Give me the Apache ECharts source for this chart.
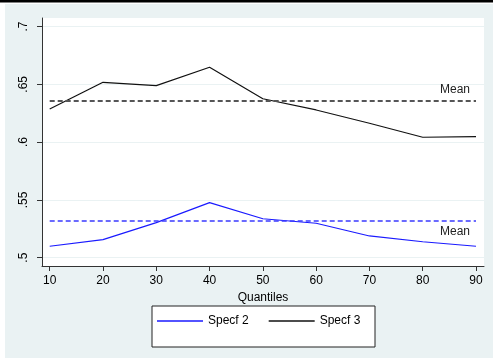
<!DOCTYPE html>
<html>
<head>
<meta charset="utf-8">
<script src="https://cdn.jsdelivr.net/npm/echarts@6/dist/echarts.min.js"></script>
<style>
html,body{margin:0;padding:0;background:#fff;}
#c{width:493px;height:359px;}
</style>
</head>
<body>
<div id="c"></div>
<script>
const quantiles = [10, 20, 30, 40, 50, 60, 70, 80, 90];
const specf2 = [0.5099, 0.5156, 0.5303, 0.5476, 0.5337, 0.5298, 0.5188, 0.5138, 0.5099];
const specf3 = [0.6286, 0.6517, 0.6488, 0.6647, 0.6375, 0.6278, 0.6163, 0.6042, 0.6047];
const meanSpecf2 = 0.5317;
const meanSpecf3 = 0.6358;
const yTicks = [0.5, 0.55, 0.6, 0.65, 0.7];
const yTickLabels = ['.5', '.55', '.6', '.65', '.7'];
const xTicks = [10, 20, 30, 40, 50, 60, 70, 80, 90];
const seriesNames = ['Specf 2', 'Specf 3'];
const meanLabel = 'Mean';
const xTitle = 'Quantiles';

const chart = echarts.init(document.getElementById('c'), null, {renderer: 'canvas'});
const font = 'Liberation Sans, Arial, sans-serif';

function pairs(xs, ys) { return xs.map((x, i) => [x, ys[i]]); }

chart.setOption({
  animation: false,
  backgroundColor: '#ffffff',
  graphic: [
    {type: 'rect', z: -10, silent: true, shape: {x: 5, y: 4, width: 488, height: 354}, style: {fill: '#eaf2f3'}},
    {type: 'rect', z: -10, silent: true, shape: {x: 0, y: 0, width: 493, height: 2.5}, style: {fill: '#000'}},
    {type: 'rect', z: -5, silent: true, shape: {x: 152, y: 306, width: 223, height: 41}, style: {fill: '#fff', stroke: '#222', lineWidth: 1}}
  ],
  grid: {
    left: 42, right: 9, top: 18, bottom: 93,
    show: true, backgroundColor: '#ffffff', borderWidth: 0
  },
  legend: {
    left: 157, top: 315, padding: 0,
    icon: 'rect',
    itemWidth: 46, itemHeight: 1.6, itemGap: 20,
    textStyle: {fontFamily: font, fontSize: 12, color: '#000'},
    data: seriesNames
  },
  xAxis: {
    type: 'value', min: 8.555, max: 91.5,
    name: xTitle, nameLocation: 'middle', nameGap: 21,
    nameTextStyle: {fontFamily: font, fontSize: 12, color: '#000'},
    axisLine: {show: true, onZero: false, lineStyle: {color: '#333', width: 1}},
    axisTick: {show: true, length: 5, customValues: xTicks, lineStyle: {color: '#333'}},
    axisLabel: {customValues: xTicks, margin: 9, fontFamily: font, fontSize: 12, color: '#000'},
    splitLine: {show: false}
  },
  yAxis: {
    type: 'value', min: 0.49282, max: 0.70735,
    axisLine: {show: true, onZero: false, lineStyle: {color: '#333', width: 1}},
    axisTick: {show: true, length: 5, customValues: yTicks, lineStyle: {color: '#333'}},
    axisLabel: {
      customValues: yTicks, rotate: 90, margin: 12,
      fontFamily: font, fontSize: 12, color: '#000',
      formatter: v => { const i = yTicks.findIndex(t => Math.abs(t - v) < 1e-6); return i >= 0 ? yTickLabels[i] : ''; }
    },
    splitLine: {show: true, lineStyle: {color: '#eaf2f3', width: 1}}
  },
  series: [
    {
      name: seriesNames[0], type: 'line', data: pairs(quantiles, specf2),
      symbol: 'none', lineStyle: {color: '#1a1aff', width: 1.2}, itemStyle: {color: '#1a1aff'},
      markLine: {
        silent: true, symbol: 'none',
        lineStyle: {color: '#3a3aff', type: [5, 3], width: 1.5, opacity: 1},
        emphasis: {disabled: true},
        label: {show: true, position: 'insideEndBottom', formatter: meanLabel, fontFamily: font, fontSize: 12, color: '#222', distance: [6, 5]},
        data: [[{coord: [quantiles[0], meanSpecf2], lineStyle: {color: '#3a3aff'}}, {coord: [quantiles[quantiles.length - 1], meanSpecf2]}]]
      }
    },
    {
      name: seriesNames[1], type: 'line', data: pairs(quantiles, specf3),
      symbol: 'none', lineStyle: {color: '#111', width: 1.2}, itemStyle: {color: '#111'},
      markLine: {
        silent: true, symbol: 'none',
        lineStyle: {color: '#555', type: [5, 3], width: 1.8, opacity: 1},
        emphasis: {disabled: true},
        label: {show: true, position: 'insideEndTop', formatter: meanLabel, fontFamily: font, fontSize: 12, color: '#222', distance: [6, 5]},
        data: [[{coord: [quantiles[0], meanSpecf3]}, {coord: [quantiles[quantiles.length - 1], meanSpecf3]}]]
      }
    }
  ]
});
</script>
</body>
</html>
